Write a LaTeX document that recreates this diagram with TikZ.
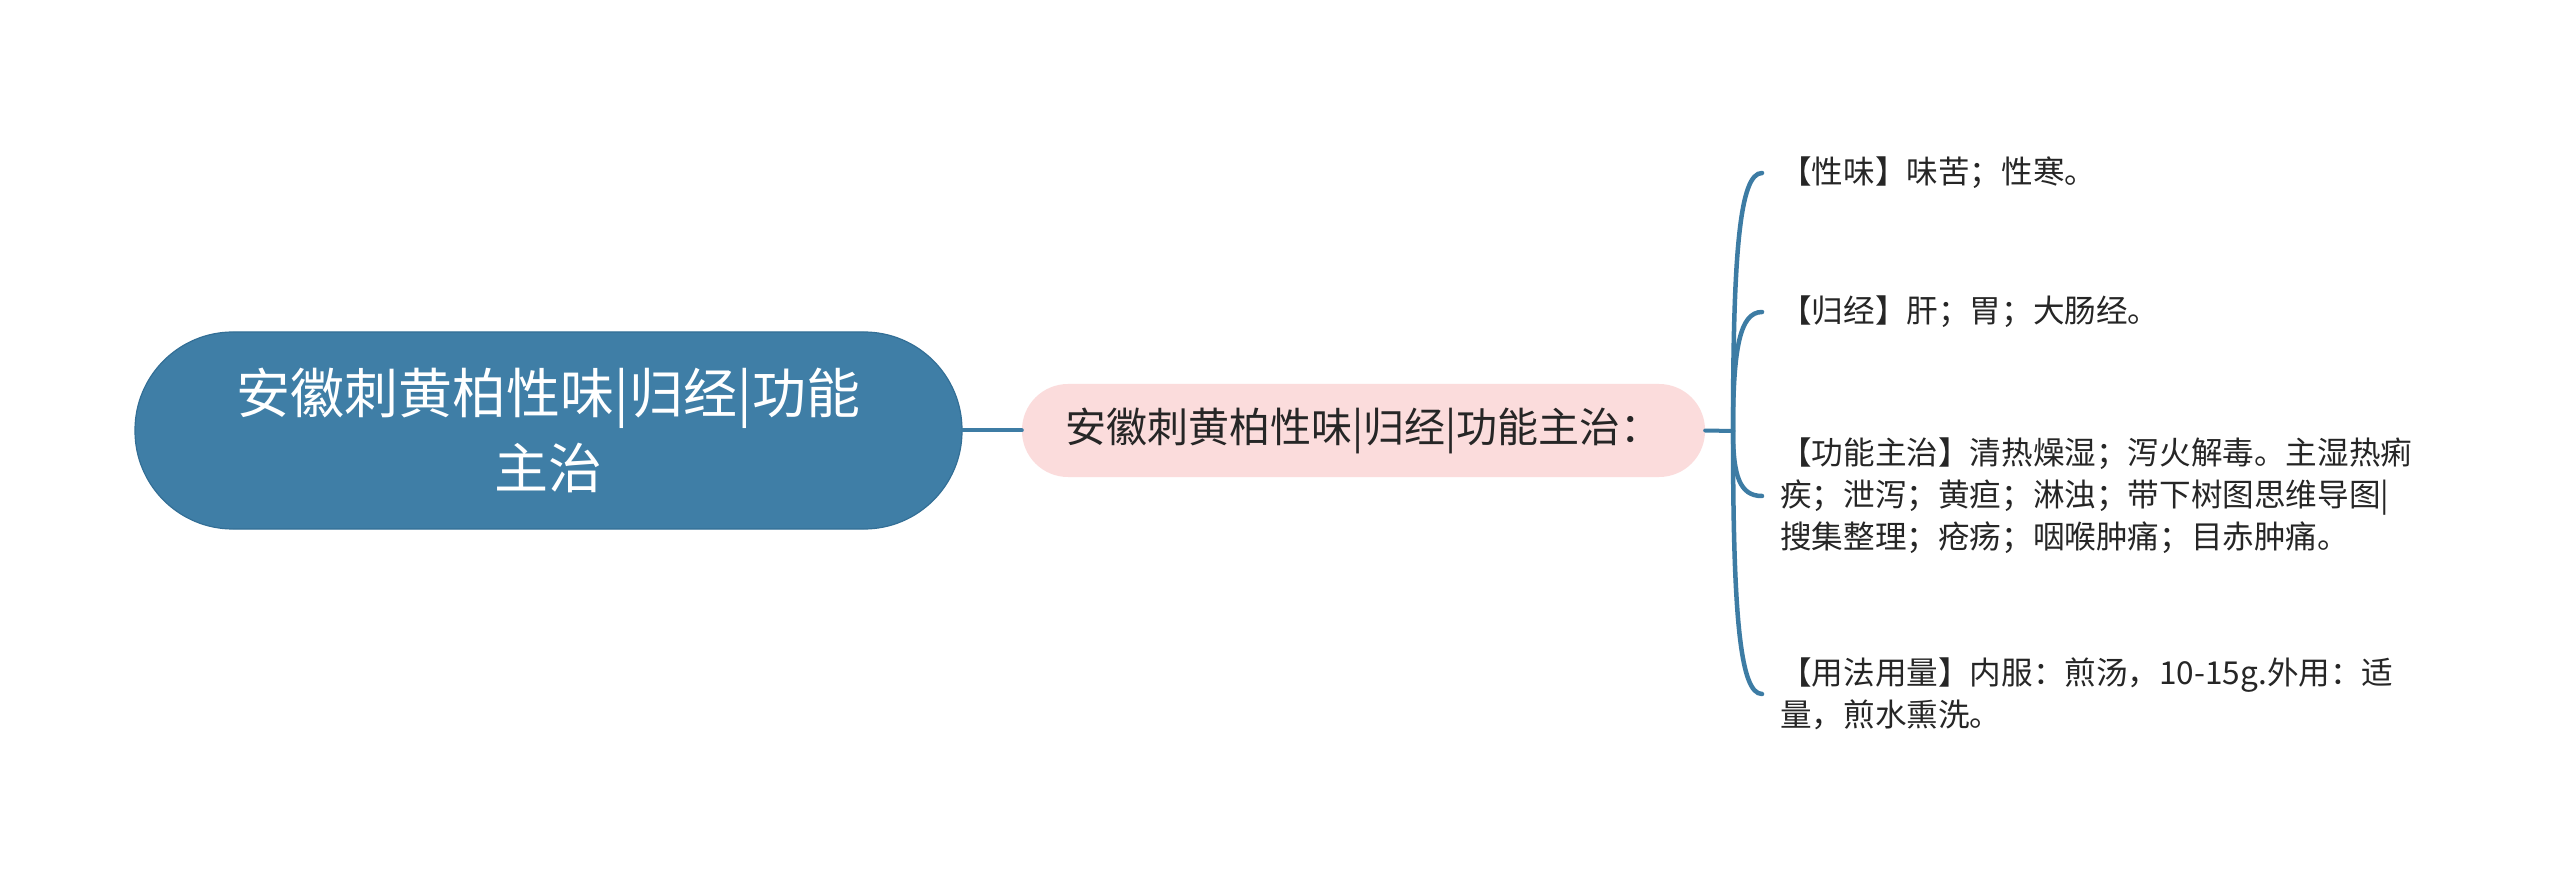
\documentclass[tikz,border=0pt]{standalone}
\usepackage{fontspec}
\newfontfamily\cjk{Noto Sans CJK SC}
\usetikzlibrary{calc}
\definecolor{rootblue}{HTML}{3F7EA6}
\definecolor{rootedge}{HTML}{336F96}
\definecolor{linecol}{HTML}{3D7CA4}
\definecolor{pinkfill}{HTML}{FBDCDC}
\definecolor{darktext}{HTML}{262626}
\begin{document}
\begin{tikzpicture}[x=1pt,y=-1pt,
  rootbox/.style={draw=rootedge, line width=1.2pt, fill=rootblue, text=white,
    minimum width=827pt, minimum height=197pt, rounded corners=98pt,
    inner sep=0pt, align=center, font=\cjk\fontsize{54}{75}\selectfont},
  secbox/.style={fill=pinkfill, text=darktext,
    minimum width=683pt, minimum height=93pt, rounded corners=46pt,
    inner sep=0pt, align=center, font=\cjk\fontsize{41}{48}\selectfont},
  leafbox/.style={anchor=west, inner xsep=18pt, inner ysep=0pt, align=left,
    text=darktext, font=\cjk\fontsize{31.6}{42}\selectfont},
  conn/.style={draw=linecol, line width=4.5pt, line cap=round}
]
\useasboundingbox[fill=white] (0,0) rectangle (2560,882);

\node[rootbox] (root) at (548.5,430.5) {安徽刺黄柏性味|归经|功能\\主治};
\node[secbox] (sec) at (1363.5,430.5) {安徽刺黄柏性味|归经|功能主治：};
\coordinate (j) at (1733,431);

\node[leafbox] (l1) at (1762,173) {【性味】味苦；性寒。};
\node[leafbox] (l2) at (1762,312) {【归经】肝；胃；大肠经。};
\node[leafbox] (l3) at (1762,496) {【功能主治】清热燥湿；泻火解毒。主湿热痢\\疾；泄泻；黄疸；淋浊；带下树图思维导图|\\搜集整理；疮疡；咽喉肿痛；目赤肿痛。};
\node[leafbox] (l4) at (1762,694) {【用法用量】内服：煎汤，10-15g.外用：适\\量，煎水熏洗。};

\draw[conn, line width=4pt] (root.east) -- (sec.west);
\draw[conn, line width=4pt] (sec.east) -- (j);
\foreach \l in {l1,l2,l3,l4}{
  \draw[conn] (j) .. controls ($(j)!0.7!(j|-\l.west)$) and ($(\l.west)+(-22,0)$) .. (\l.west);
}
\end{tikzpicture}
\end{document}
